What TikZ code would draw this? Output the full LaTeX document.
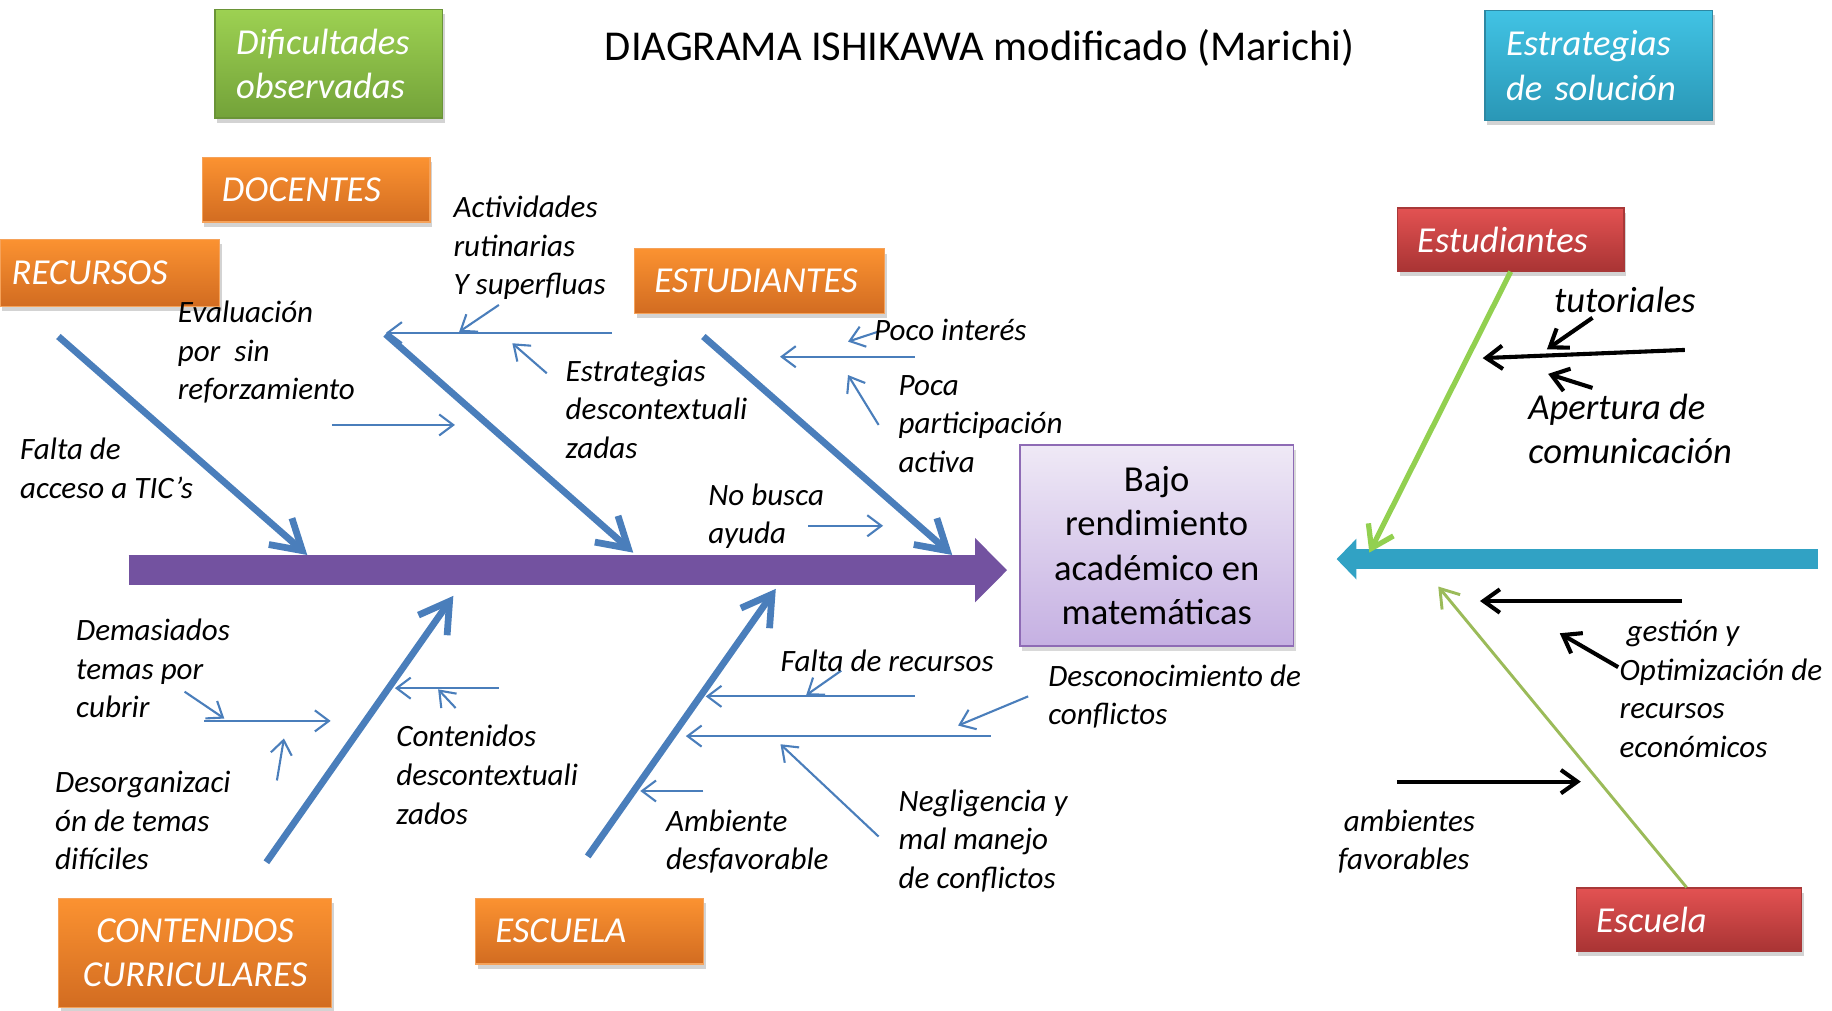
\documentclass[tikz,border=0pt]{standalone}
\usepackage{fontspec}
\setmainfont{Carlito}
\usetikzlibrary{arrows.meta,shadows}
\definecolor{steel}{HTML}{4A7EBB}
\definecolor{purp}{HTML}{7352A0}
\definecolor{cyspine}{HTML}{31A2C4}
\definecolor{orT}{HTML}{FB9231}
\definecolor{orB}{HTML}{D26C21}
\definecolor{orD}{HTML}{F5A25A}
\definecolor{grT}{HTML}{9DD152}
\definecolor{grB}{HTML}{73A239}
\definecolor{grD}{HTML}{6A9437}
\definecolor{cyT}{HTML}{41C3E4}
\definecolor{cyB}{HTML}{2A97B6}
\definecolor{cyD}{HTML}{2D88A3}
\definecolor{rdT}{HTML}{E35252}
\definecolor{rdB}{HTML}{A93434}
\definecolor{rdD}{HTML}{A83838}
\definecolor{pbT}{HTML}{EFE9F6}
\definecolor{pbB}{HTML}{C5B0E2}
\definecolor{pbD}{HTML}{8E6BB5}
\definecolor{lgreen}{HTML}{92D050}
\definecolor{ogreen}{HTML}{9BBB59}
\newcommand\lblfont{\fontsize{26.6}{33}\selectfont\itshape}
\newcommand\boxfont{\fontsize{31.3}{38}\selectfont\itshape}
\newcommand\bigup{\fontsize{31.3}{38}\selectfont}
\newcommand\titlefont{\fontsize{36.4}{42}\selectfont}
\begin{document}
\begin{tikzpicture}[x=1pt,y=-1pt,
  lbl/.style={anchor=north west, inner sep=0pt, align=left, font=\lblfont},
  bigl/.style={anchor=north west, inner sep=0pt, align=left, font=\boxfont},
  bx/.style={rectangle, line width=1pt, align=left, inner ysep=0pt, text=white, font=\boxfont,
    drop shadow={opacity=0.35, shadow xshift=2pt, shadow yshift=-4pt}},
  obox/.style={bx, top color=orT, bottom color=orB, draw=orD},
  gbox/.style={bx, top color=grT, bottom color=grB, draw=grD},
  cbox/.style={bx, top color=cyT, bottom color=cyB, draw=cyD},
  rbox/.style={bx, top color=rdT, bottom color=rdB, draw=rdD},
  bone/.style={steel, line width=5.8pt, -{Straight Barb[length=25pt,width=30pt]}},
  thin/.style={steel, line width=1.8pt, -{Straight Barb[length=12pt,width=18pt]}},
  blk/.style={black, line width=3.5pt, -{Straight Barb[length=14pt,width=20pt]}},
]
\useasboundingbox (0,0) rectangle (1568,865);

% title
\node[anchor=base, inner sep=0pt, font=\titlefont] (title) at (838.5,52) {DIAGRAMA ISHIKAWA modificado (Marichi)};

% header boxes
\node[gbox, minimum width=195pt, minimum height=93pt, text width=159pt, inner xsep=18pt] (dif) at (281.5,54.5) {Dificultades\\observadas};
\node[cbox, minimum width=195pt, minimum height=94pt, text width=159pt, inner xsep=18pt] (estr) at (1368.5,56) {Estrategias\\de solución};

% category boxes
\node[obox, minimum width=195pt, minimum height=55pt, text width=161pt, inner xsep=17pt] (docentes) at (270.5,162.5) {DOCENTES};
\node[obox, minimum width=188pt, minimum height=57pt, text width=168pt, inner xsep=10pt] (recursos) at (94,233.5) {RECURSOS};
\node[obox, minimum width=214pt, minimum height=55pt, text width=180pt, inner xsep=17pt] (estud) at (650,240.5) {ESTUDIANTES};
\node[obox, minimum width=234pt, minimum height=93pt, text width=210pt, inner xsep=12pt, align=center] (conten) at (167,815.5) {CONTENIDOS\\CURRICULARES};
\node[obox, minimum width=195pt, minimum height=56pt, text width=161pt, inner xsep=17pt] (escuela) at (504.5,797) {ESCUELA};
\node[rbox, minimum width=194pt, minimum height=54pt, text width=160pt, inner xsep=17pt] (estR) at (1293,205) {Estudiantes};
\node[rbox, minimum width=193pt, minimum height=54pt, text width=159pt, inner xsep=17pt] (escR) at (1445.5,787) {Escuela};

% effect box
\node[rectangle, draw=pbD, line width=1.5pt, top color=pbT, bottom color=pbB, minimum width=234pt, minimum height=172pt, align=center, font=\bigup,
  drop shadow={opacity=0.3, shadow xshift=2pt, shadow yshift=-4pt}] (effect) at (990,467) {Bajo\\rendimiento\\académico en\\matemáticas};

% spines
\coordinate (spL) at (110,488);
\coordinate (spR) at (862,488);
\draw[purp, line width=26pt, -{Triangle[length=27.5pt,width=53.5pt]}] (spL) -- (spR);
\coordinate (cyR) at (1556,478.5);
\coordinate (cyL) at (1144,478.5);
\draw[cyspine, line width=17pt, -{Triangle[length=17pt,width=34pt]}] (cyR) -- (cyL);

% bones
\coordinate (recA) at (50,288);  \coordinate (recB) at (263,475);
\coordinate (docA) at (330,286); \coordinate (docB) at (542,473);
\coordinate (estA) at (602,288); \coordinate (estB) at (815,475);
\coordinate (conA) at (228,738); \coordinate (conB) at (388,510);
\coordinate (escA) at (503,733); \coordinate (escB) at (664,504);
\draw[bone] (recA) -- (recB);
\draw[bone] (docA) -- (docB);
\draw[bone] (estA) -- (estB);
\draw[bone] (conA) -- (conB);
\draw[bone] (escA) -- (escB);

% thin arrows
\coordinate (t1a) at (284,363.7);   \coordinate (t1b) at (389.4,363.7);
\coordinate (t2a) at (524,284.7);   \coordinate (t2b) at (330.5,284.7);
\coordinate (t3a) at (427,261);     \coordinate (t3b) at (393,284);
\coordinate (t4a) at (468,319.5);   \coordinate (t4b) at (438.5,293.8);
\coordinate (t5a) at (783,305.3);   \coordinate (t5b) at (667.6,305.3);
\coordinate (t6a) at (751.5,283.9); \coordinate (t6b) at (725.8,292.4);
\coordinate (t7a) at (752,363.7);   \coordinate (t7b) at (725.8,321);
\coordinate (t8a) at (691.7,450);   \coordinate (t8b) at (755.8,450);
\coordinate (t9a) at (175,617);     \coordinate (t9b) at (283,617);
\coordinate (t10a) at (158,592);    \coordinate (t10b) at (192,615);
\coordinate (t11a) at (237,668);    \coordinate (t11b) at (243,632);
\coordinate (t12a) at (427,589);    \coordinate (t12b) at (338,589);
\coordinate (t13a) at (390,606);    \coordinate (t13b) at (375,590);
\coordinate (t14a) at (783,596);    \coordinate (t14b) at (604,596);
\coordinate (t15a) at (720,574);    \coordinate (t15b) at (690,595);
\coordinate (t16a) at (848,630);    \coordinate (t16b) at (587,630);
\coordinate (t17a) at (880,596);    \coordinate (t17b) at (820,621);
\coordinate (t18a) at (752,716);    \coordinate (t18b) at (668,637);
\coordinate (t19a) at (602,677);    \coordinate (t19b) at (548,677);
\foreach \i in {1,...,19} {\draw[thin] (t\i a) -- (t\i b);}

% black arrows
\coordinate (b1a) at (1442,299.5);  \coordinate (b1b) at (1269,306.5);
\coordinate (b2a) at (1363,272);    \coordinate (b2b) at (1324,299);
\coordinate (b3a) at (1363,332);    \coordinate (b3b) at (1325,320);
\coordinate (b4a) at (1439.6,514.4);\coordinate (b4b) at (1266.7,514.4);
\coordinate (b5a) at (1385,571);    \coordinate (b5b) at (1335,542);
\coordinate (b6a) at (1195.6,669);  \coordinate (b6b) at (1353,669);
\foreach \i in {1,...,6} {\draw[blk] (b\i a) -- (b\i b);}

% green arrows
\coordinate (g1b) at (1172,473);
\coordinate (g2b) at (1231,502);
\draw[lgreen, line width=4.5pt, -{Straight Barb[length=18pt,width=24pt]}] (estR.south) -- (g1b);
\draw[ogreen, line width=2.5pt, -{Straight Barb[length=15pt,width=20pt]}] ([xshift=-2pt]escR.north) -- (g2b);

% labels
\node[lbl] (l1) at (388,163) {\strut Actividades\\rutinarias\\Y superfluas};
\node[lbl] (l2) at (152,253) {\strut Evaluación\\por\ \ sin\\reforzamiento};
\node[lbl] (l3) at (17,370) {\strut Falta de\\acceso a TIC’s};
\node[lbl] (l4) at (484,303) {\strut Estrategias\\descontextuali\\zadas};
\node[lbl] (l5) at (748,268) {\strut Poco interés};
\node[lbl] (l6) at (769,315) {\strut Poca\\participación\\activa};
\node[lbl] (l7) at (606,409) {\strut No busca\\ayuda};
\node[lbl] (l8) at (65,525) {\strut Demasiados\\temas por\\cubrir};
\node[lbl] (l9) at (47,655) {\strut Desorganizaci\\ón de temas\\difíciles};
\node[lbl] (l10) at (339,616) {\strut Contenidos\\descontextuali\\zados};
\node[lbl] (l11) at (668,551) {\strut Falta de recursos};
\node[lbl] (l12) at (897,564) {\strut Desconocimiento de\\conflictos};
\node[lbl] (l13) at (570,688) {\strut Ambiente\\desfavorable};
\node[lbl] (l14) at (769,671) {\strut Negligencia y\\mal manejo\\de conflictos};
\node[bigl] (l15) at (1330,241) {\strut tutoriales};
\node[bigl] (l16) at (1308,332) {\strut Apertura de\\comunicación};
\node[lbl] (l17) at (1386,526) {\strut\hspace{6pt}gestión y\\Optimización de\\recursos\\económicos};
\node[lbl] (l18) at (1145,688) {\strut\hspace{5pt}ambientes\\favorables};
\end{tikzpicture}
\end{document}
